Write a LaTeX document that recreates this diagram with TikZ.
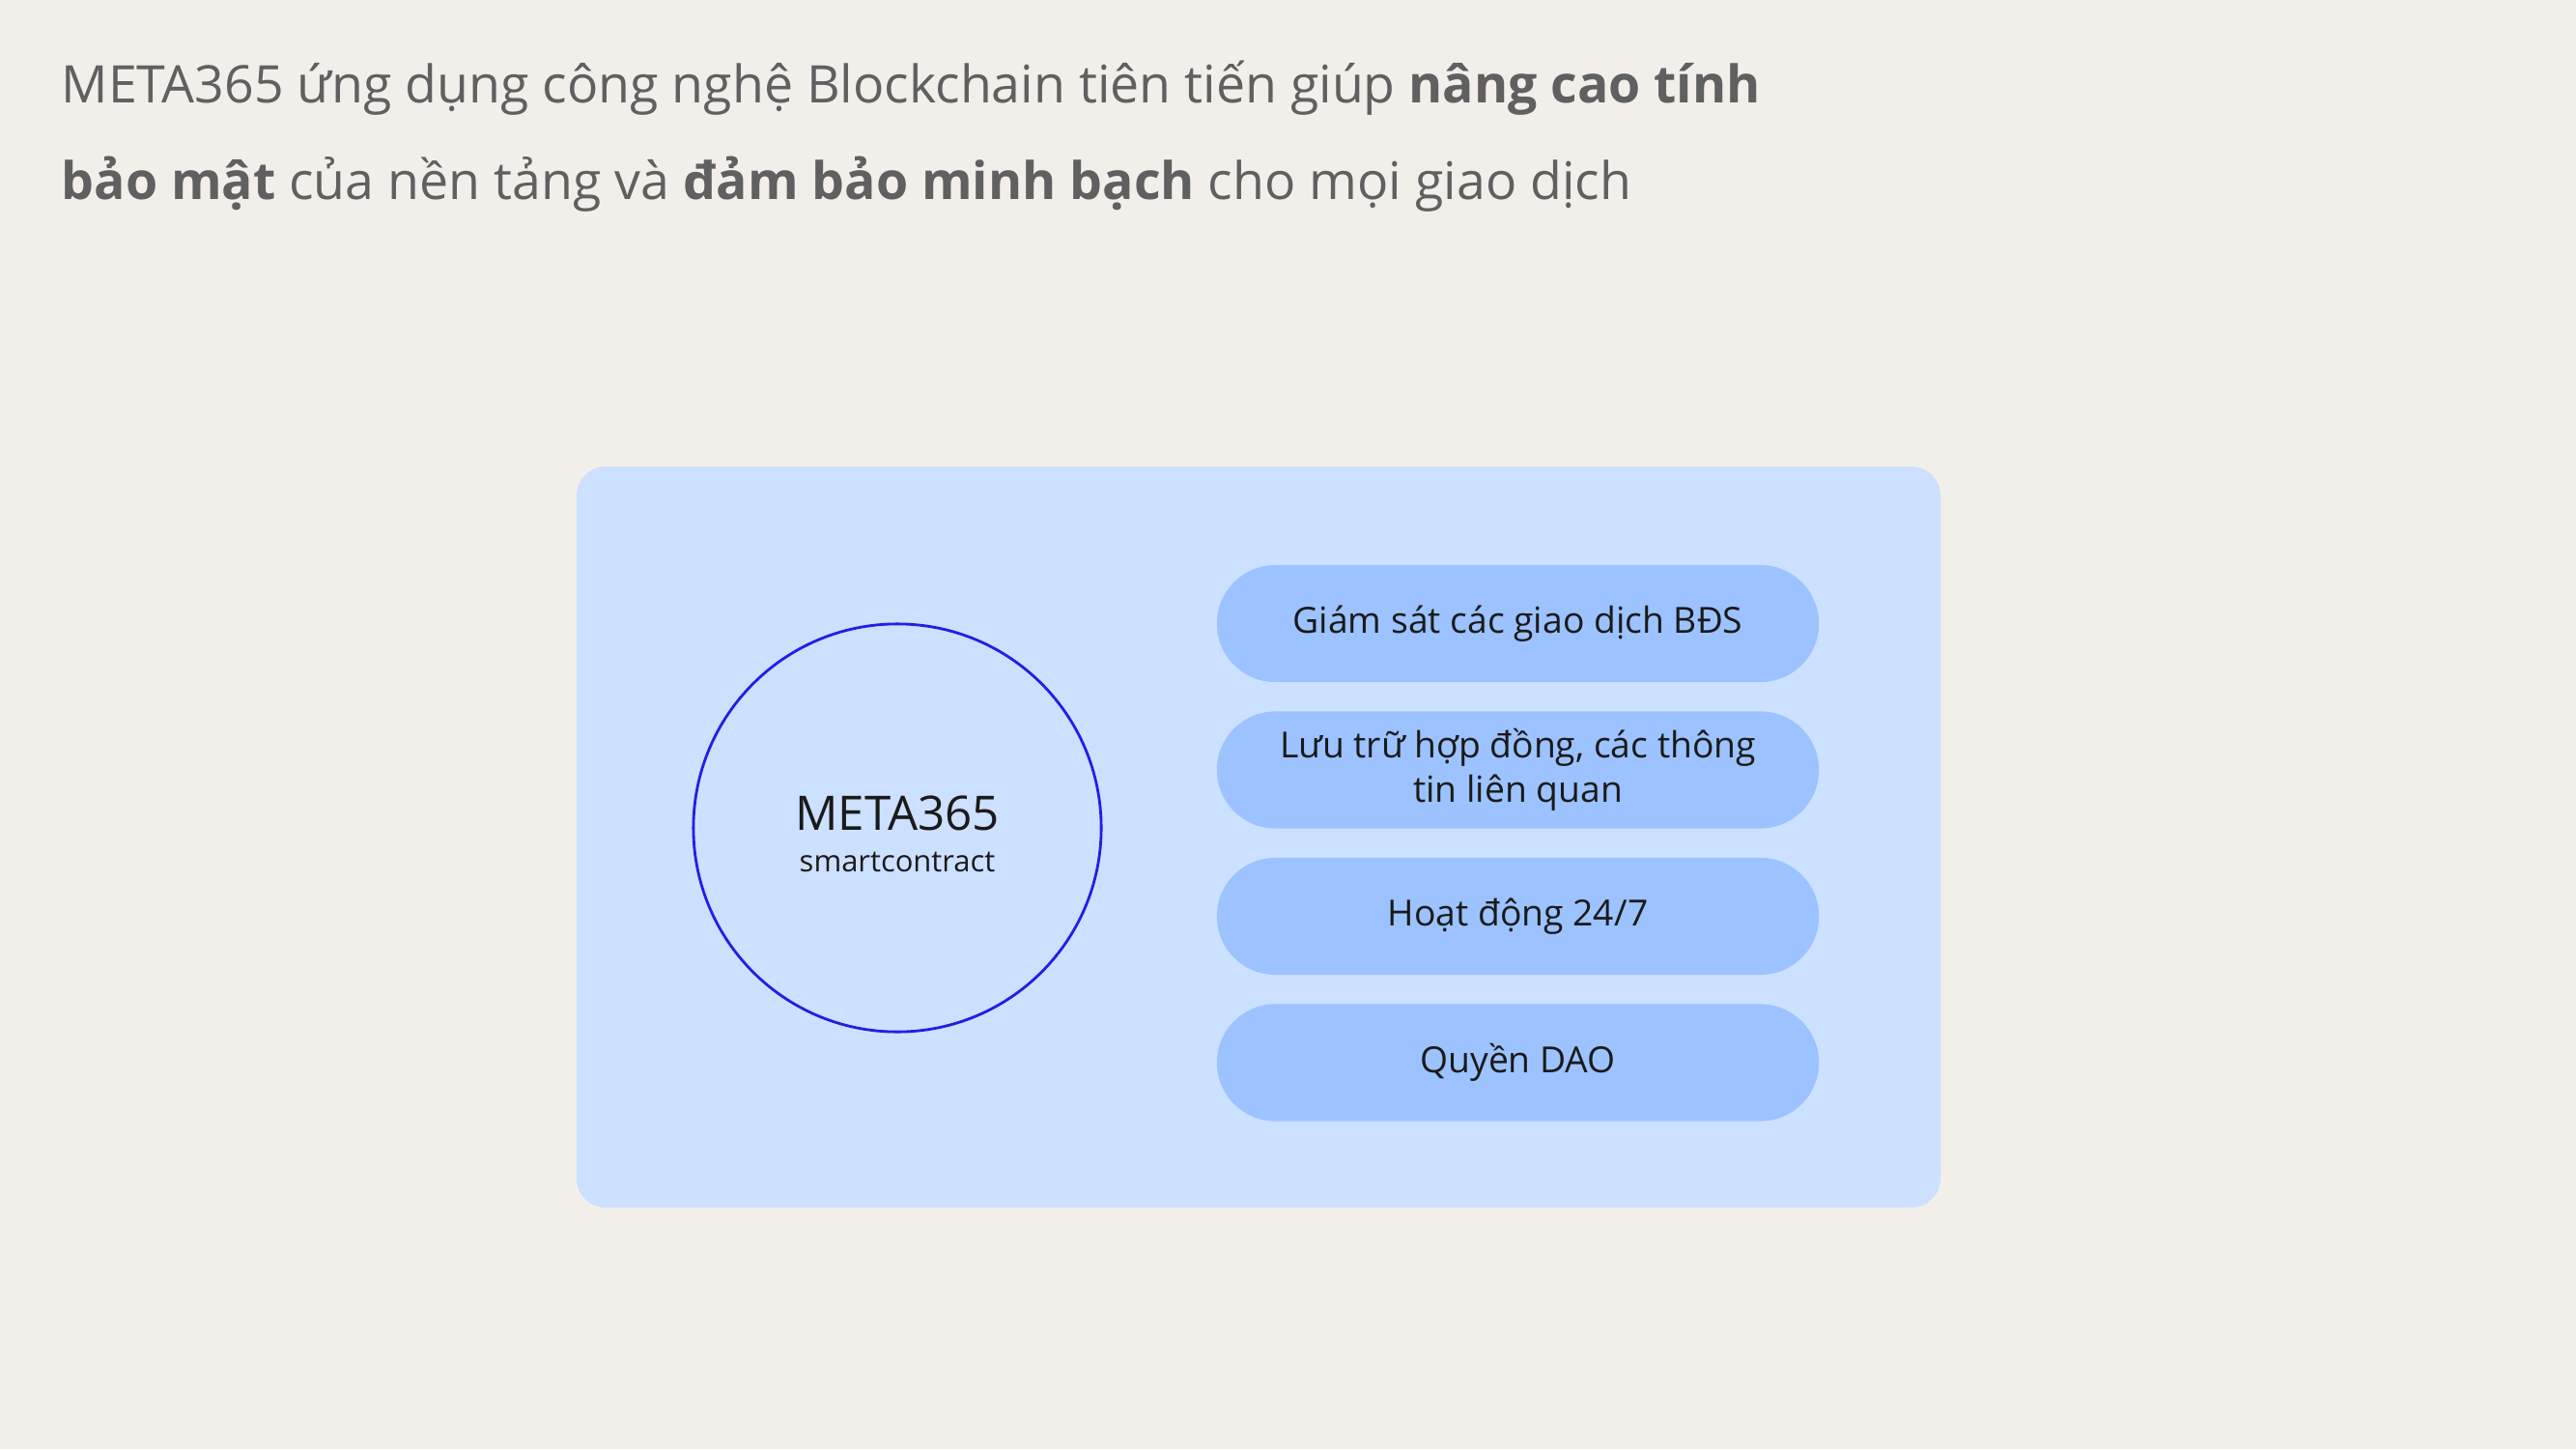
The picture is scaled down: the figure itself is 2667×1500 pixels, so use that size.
\documentclass[tikz,border=0pt]{standalone}
\usepackage{fontspec}
\setmainfont{Open Sans}
\usetikzlibrary{positioning,shapes.misc}
\definecolor{paper}{HTML}{F2EFEA}
\definecolor{panel}{HTML}{CCE0FF}
\definecolor{pillblue}{HTML}{9CC2FF}
\definecolor{ring}{HTML}{2020E6}
\definecolor{ink}{HTML}{606060}
\definecolor{dark}{HTML}{1A1A1A}

\begin{document}
\begin{tikzpicture}[
    x=0.01cm, y=-0.01cm,
    headline/.style={anchor=base west, inner sep=0pt, text=ink, font=\fontsize{15.25}{20}\selectfont},
    panelbox/.style={fill=panel, rounded corners=0.3cm},
    feature/.style ={rounded rectangle, fill=pillblue, minimum width=6.23cm, minimum height=1.21cm, inner sep=0pt, align=center, text=dark, font=\fontsize{10.6}{13}\selectfont},
    core/.style    ={circle, draw=ring, line width=0.8pt, minimum size=4.22cm, inner sep=0pt},
    corename/.style={anchor=base, inner sep=0pt, text=dark}
]
\fill[paper] (0,0) rectangle (2667,1500);
\useasboundingbox (0,0) rectangle (2667,1500);

% headline
\node[headline] (line1) at (63,107) {META365 ứng dụng công nghệ Blockchain tiên tiến giúp \textbf{nâng cao tính}};
\node[headline] (line2) at (63,206) {\textbf{bảo mật} của nền tảng và \textbf{đảm bảo minh bạch} cho mọi giao dịch};

% panel
\fill[panelbox] (597,483) rectangle (2009,1250);

% circle
\node[core] (meta) at (929,857) {};
\node[corename, font=\fontsize{14}{17}\selectfont] (metatitle) at (929,859) {META365};
\node[corename, font=\fontsize{8.8}{11}\selectfont] (metasub) at (929,902) {smartcontract};

% features
\node[feature] (f1) at (1571.5,645.5) {Giám sát các giao dịch BĐS};
\node[feature, below=0.29cm of f1] (f2) {Lưu trữ hợp đồng, các thông\\tin liên quan};
\node[feature, below=0.29cm of f2] (f3) {Hoạt động 24/7};
\node[feature, below=0.29cm of f3] (f4) {Quyền DAO};
\end{tikzpicture}
\end{document}
